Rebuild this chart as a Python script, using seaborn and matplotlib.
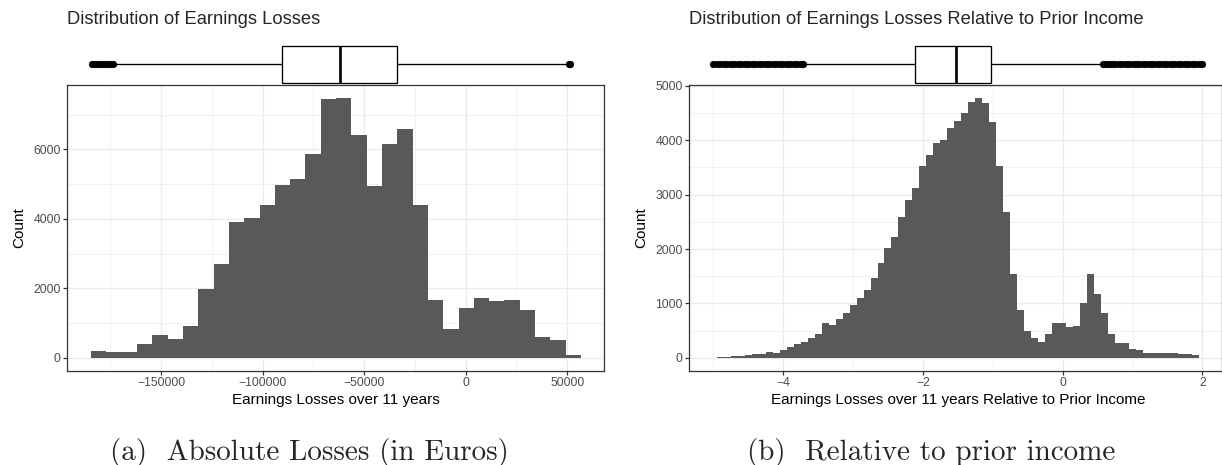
import numpy as np
import pandas as pd
import matplotlib
matplotlib.use("Agg")
import matplotlib.pyplot as plt
import seaborn as sns

# histogram of absolute losses (euros), 32 bins
loss_bin_start = -184500
loss_bin_width = 7540
loss_counts = [195, 165, 160, 400, 660, 545, 918, 1985, 2698, 3907, 4022, 4397,
               4973, 5146, 5866, 7450, 7478, 6413, 4944, 6154, 6586, 4397, 1667, 831,
               1432, 1725, 1648, 1667, 1380, 600, 514, 72]

# histogram of losses relative to prior income, 69 bins
rel_bin_start = -4.95
rel_bin_width = 0.1
rel_counts = [12, 6, 31, 37, 55, 74, 74, 110, 92, 141, 196, 251, 282, 368, 441, 644,
              607, 711, 828, 975, 1097, 1251, 1467,
              1744, 2014, 2223, 2591, 2904, 3125, 3530, 3727, 3954, 4009, 4230, 4353,
              4507, 4709, 4783, 4691, 4341, 3530, 2683,
              1541, 883, 497, 368, 294, 441, 644, 644, 570, 589, 1011, 1541, 1177, 828,
              441, 276, 276, 166, 147, 92, 92, 92, 92, 80, 74, 61, 49]

# boxplot summaries
loss_box = dict(whislo=-172810, q1=-90300, med=-62070, q3=-34040, whishi=50390)
loss_fliers = [-184000, -182500, -181000, -179500, -178000, -176500, -175000, -173500,
               51000, 51600]
rel_box = dict(whislo=-3.69, q1=-2.116, med=-1.52, q3=-1.029, whishi=0.544)
rel_fliers = [-5.0, -4.95, -4.9, -4.85, -4.8, -4.75, -4.7, -4.65, -4.6, -4.55, -4.5,
              -4.45, -4.4, -4.35, -4.3, -4.25, -4.2, -4.15, -4.1, -4.05, -4.0, -3.95,
              -3.9, -3.85, -3.8, -3.75, -3.72,
              0.58, 0.62, 0.66, 0.7, 0.75, 0.8, 0.85, 0.9, 0.95, 1.0, 1.05, 1.1, 1.15,
              1.2, 1.25, 1.3, 1.35, 1.4, 1.45, 1.5, 1.55, 1.6, 1.65, 1.7, 1.75, 1.8,
              1.85, 1.9, 1.95, 1.99]

loss_xticks = [-150000, -100000, -50000, 0, 50000]
loss_yticks = [0, 2000, 4000, 6000]
rel_xticks = [-4, -2, 0, 2]
rel_yticks = [0, 1000, 2000, 3000, 4000, 5000]

sns.set_style("white")
plt.rcParams['font.family'] = ['Liberation Sans', 'DejaVu Sans']

W, H = 1222, 465
fig = plt.figure(figsize=(W / 100, H / 100), dpi=100)


def rect(x0, y0, x1, y1):
    return [x0 / W, 1 - y1 / H, (x1 - x0) / W, (y1 - y0) / H]


def minus(v):
    return f"{v:g}".replace("-", "\u2212")


def hist_panel(ax, start, width, counts, xlim, ylim, xticks, xminor, yticks, yminor, xlabel):
    n = len(counts)
    df = pd.DataFrame({
        'x': start + width * (np.arange(n) + 0.5),
        'count': counts,
    })
    edges = list(start + width * np.arange(n + 1))
    sns.histplot(data=df, x='x', weights='count', bins=edges, color='#595959', alpha=1,
                 edgecolor='none', linewidth=0, ax=ax)
    ax.set_xlim(*xlim)
    ax.set_ylim(*ylim)
    ax.set_xticks(xticks)
    ax.set_xticklabels([minus(v) for v in xticks])
    ax.set_yticks(yticks)
    ax.set_yticklabels([minus(v) for v in yticks])
    ax.set_xticks(xminor, minor=True)
    ax.set_yticks(yminor, minor=True)
    ax.set_axisbelow(True)
    ax.grid(which='major', color='#EBEBEB', linewidth=0.95)
    ax.grid(which='minor', color='#EBEBEB', linewidth=0.5)
    for s in ax.spines.values():
        s.set_color('#333333')
        s.set_linewidth(0.9)
    ax.tick_params(which='major', length=2.75, width=0.9, color='#333333',
                   labelsize=8.8, labelcolor='#4D4D4D', pad=2.0,
                   bottom=True, left=True)
    ax.tick_params(which='minor', length=0)
    ax.set_xlabel(xlabel, fontsize=11, color='black')
    ax.set_ylabel("Count", fontsize=11, color='black')


def box_panel(ax, stats, fliers, xlim):
    st = dict(stats)
    st['fliers'] = fliers
    ax.bxp([st], orientation='horizontal', widths=0.8, patch_artist=True,
           showcaps=False,
           boxprops=dict(facecolor='white', edgecolor='black', linewidth=0.95),
           medianprops=dict(color='black', linewidth=1.9),
           whiskerprops=dict(color='black', linewidth=0.95),
           flierprops=dict(marker='o', markersize=4.7, markerfacecolor='black',
                           markeredgecolor='black', markeredgewidth=0.5))
    ax.set_xlim(*xlim)
    ax.set_ylim(0.5, 1.5)
    ax.axis('off')


# left panel
loss_xlim = (-196256, 68128)
axl = fig.add_axes(rect(67.3, 84.7, 604, 370.7))
hist_panel(axl, loss_bin_start, loss_bin_width, loss_counts, loss_xlim, (-375, 7867),
           loss_xticks, [-175000, -125000, -75000, -25000, 25000],
           loss_yticks, [1000, 3000, 5000, 7000], "Earnings Losses over 11 years")
axl.xaxis.set_label_coords(0.5, -0.102)
axl.xaxis.label.set_va('center')
axl.yaxis.set_label_coords(-0.09, 0.5)
axl.yaxis.label.set_va('center')
bxl = fig.add_axes(rect(67.3, 41.1, 604, 87.3))
bxl.patch.set_alpha(0)
box_panel(bxl, loss_box, loss_fliers, loss_xlim)

# right panel
rel_xlim = (-5.344, 2.281)
axr = fig.add_axes(rect(689.3, 84.7, 1222, 370.7))
hist_panel(axr, rel_bin_start, rel_bin_width, rel_counts, rel_xlim, (-239, 5023),
           rel_xticks, [-5, -3, -1, 1], rel_yticks, [500, 1500, 2500, 3500, 4500],
           "Earnings Losses over 11 years Relative to Prior Income")
axr.xaxis.set_label_coords(0.504, -0.102)
axr.xaxis.label.set_va('center')
axr.yaxis.set_label_coords(-0.0894, 0.5)
axr.yaxis.label.set_va('center')
bxr = fig.add_axes(rect(689.3, 41.1, 1222, 87.3))
bxr.patch.set_alpha(0)
box_panel(bxr, rel_box, rel_fliers, rel_xlim)

# titles
fig.text(67.3 / W, 1 - 24 / H, "Distribution of Earnings Losses", fontsize=13.2,
         va='baseline', ha='left')
fig.text(689.3 / W, 1 - 24 / H, "Distribution of Earnings Losses Relative to Prior Income",
         fontsize=13.2, va='baseline', ha='left')

# subfigure captions
fig.text(309 / W, 1 - 460 / H, "(a)  Absolute Losses (in Euros)", family='cmr10',
         fontsize=21, ha='center', va='baseline')
fig.text(931.4 / W, 1 - 460 / H, "(b)  Relative to prior income", family='cmr10',
         fontsize=21, ha='center', va='baseline')

fig.savefig("out.png", dpi=100)
